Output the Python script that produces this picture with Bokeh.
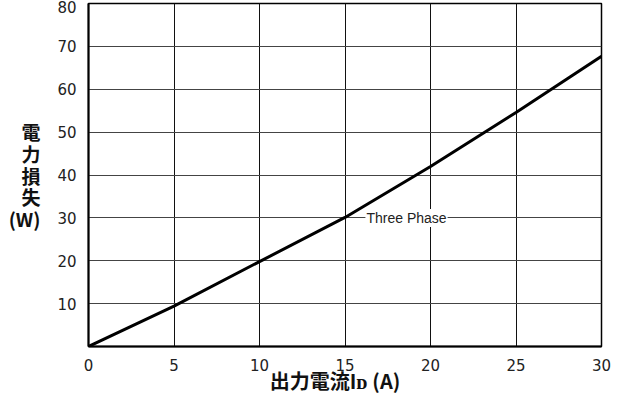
from bokeh.plotting import figure
from bokeh.models import Range1d, FixedTicker, Label
from bokeh.embed import file_html
from bokeh.resources import INLINE

# ---- data ----
current_a = [0, 5, 10, 15, 20, 25, 30]
loss_w = [0, 9.4, 19.8, 30.1, 42.0, 54.6, 67.7]
x_ticks = [0, 5, 10, 15, 20, 25, 30]
y_ticks = [0, 10, 20, 30, 40, 50, 60, 70, 80]
series_name = "Three Phase"
y_label = "電\n力\n損\n失\n(W)"
x_label = "出力電流Iᴅ (A)\u3000"

W, H = 624, 402
BL, BR, BT, BB = 88, 23, 3, 56
FW, FH = W - BL - BR, H - BT - BB
X0, X1, Y0, Y1 = 0, 30, 0, 80

p = figure(width=W, height=H, output_backend="svg", toolbar_location=None,
           x_range=Range1d(X0, X1), y_range=Range1d(Y0, Y1),
           min_border_left=BL, min_border_right=BR,
           min_border_top=BT, min_border_bottom=BB)
p.background_fill_color = "white"
p.border_fill_color = "white"
p.outline_line_color = "black"
p.outline_line_width = 1.5

cjk = "Noto Sans CJK JP"
for ax in (p.xaxis[0], p.yaxis[0]):
    ax.major_tick_line_color = None
    ax.minor_tick_line_color = None
    ax.axis_line_color = "black"
    ax.axis_line_width = 2
    ax.major_label_text_font = "DejaVu Sans"
    ax.major_label_text_font_size = "15px"
    ax.major_label_text_color = "#222222"
    ax.major_label_standoff = 6
    ax.axis_label_text_font = cjk
    ax.axis_label_text_font_style = "bold"
    ax.axis_label_text_color = "#111111"

p.xaxis.ticker = FixedTicker(ticks=x_ticks)
p.yaxis.ticker = FixedTicker(ticks=y_ticks)
p.yaxis.major_label_overrides = {0: ""}

p.xaxis.axis_label = x_label
p.xaxis.axis_label_text_font_size = "20px"
p.xaxis.axis_label_standoff = -8

p.yaxis.axis_label = y_label
p.yaxis.axis_label_orientation = "horizontal"
p.yaxis.axis_label_text_font_size = "19px"
p.yaxis.axis_label_text_line_height = 0.8
p.yaxis.axis_label_standoff = 14

p.xgrid.ticker = FixedTicker(ticks=x_ticks)
p.ygrid.ticker = FixedTicker(ticks=y_ticks)
p.xgrid.grid_line_color = "#111111"
p.ygrid.grid_line_color = "#444444"
p.xgrid.grid_line_width = 1
p.ygrid.grid_line_width = 1

p.line(current_a, loss_w, line_color="black", line_width=3)

def px_x(page_x):
    return X0 + (page_x - BL) / FW * (X1 - X0)

p.add_layout(Label(x=px_x(406), y=30, text=series_name,
                   text_font="Liberation Sans", text_font_size="14px",
                   text_color="#222222", text_align="center", text_baseline="middle",
                   background_fill_color="white", padding=1))

open("out.html", "w").write(file_html(p, INLINE))
